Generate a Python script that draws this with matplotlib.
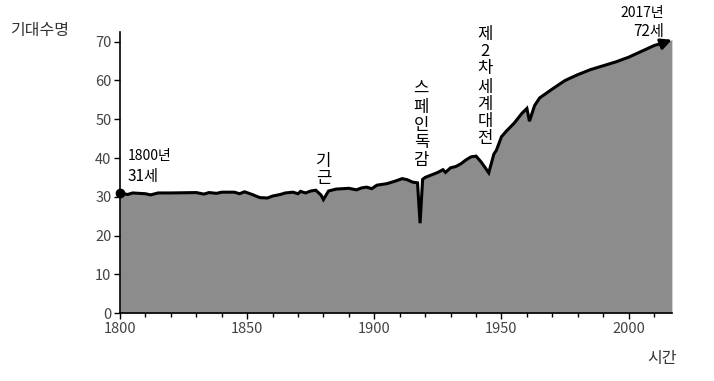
import numpy as np
import matplotlib
matplotlib.use("Agg")
from matplotlib import pyplot as plt

plt.rcParams['font.family'] = ['Noto Sans CJK KR', 'DejaVu Sans']

# life expectancy
years = [1800, 1803, 1805, 1810, 1812, 1815, 1820, 1830, 1833, 1835, 1838, 1840,
         1845, 1847, 1849, 1852, 1855, 1858, 1860, 1863, 1865, 1868, 1870, 1871,
         1873, 1875, 1877, 1879, 1880, 1882, 1885, 1890, 1893, 1895, 1897, 1899,
         1901, 1905, 1908, 1911, 1913, 1915, 1917, 1918, 1919, 1920, 1925, 1927,
         1928, 1930, 1932, 1934, 1936, 1938, 1940, 1942, 1945, 1947, 1948, 1950,
         1952, 1955, 1958, 1960, 1961, 1963, 1965, 1970, 1975, 1980, 1985, 1990,
         1995, 2000, 2005, 2010, 2015, 2017]
life = [31.0, 30.6, 31.0, 30.8, 30.5, 31.0, 31.0, 31.1, 30.7, 31.1, 30.9, 31.2,
        31.2, 30.8, 31.3, 30.6, 29.8, 29.7, 30.2, 30.6, 31.0, 31.2, 30.8, 31.4,
        31.0, 31.5, 31.7, 30.5, 29.3, 31.5, 32.0, 32.2, 31.8, 32.3, 32.5, 32.1,
        33.0, 33.4, 34.0, 34.7, 34.4, 33.8, 33.6, 23.2, 34.5, 35.0, 36.3, 37.0,
        36.3, 37.5, 37.8, 38.5, 39.5, 40.3, 40.5, 39.0, 36.2, 41.0, 42.0, 45.5,
        47.0, 49.0, 51.5, 52.8, 49.5, 53.5, 55.5, 57.8, 60.0, 61.5, 62.8, 63.8,
        64.8, 66.0, 67.5, 69.0, 70.0, 70.5]

yticks = [0, 10, 20, 30, 40, 50, 60, 70]
xticks = [1800, 1850, 1900, 1950, 2000]

fig = plt.figure(figsize=(7.14, 3.81), dpi=100)
ax = fig.add_axes([0.168, 0.178, 0.773, 0.738])

ax.fill_between(years, life, 0, color='#8c8c8c', lw=0)
ax.plot(years[:-1], life[:-1], color='black', lw=2.2, solid_joinstyle='miter')
# arrow at the end
ax.annotate('', xy=(years[-1], life[-1]), xytext=(years[-2], life[-2]),
            arrowprops=dict(arrowstyle='-|>', color='black', lw=2.2,
                            mutation_scale=16, shrinkA=0, shrinkB=0),
            annotation_clip=False)
ax.plot(years[0], life[0], 'o', color='black', ms=6, clip_on=False, zorder=5)

ax.set_xlim(1800, 2017)
ax.set_ylim(0, 72.5)
ax.set_yticks(yticks)
ax.set_xticks(xticks)
ax.set_xticks(np.arange(1810, 2017, 10), minor=True)
ax.tick_params(axis='both', labelsize=10.5, labelcolor='#444444', color='black',
               length=4, width=1)
ax.tick_params(axis='x', which='minor', length=3, width=1)
ax.tick_params(axis='x', pad=2)
ax.tick_params(axis='y', pad=2)
for s in ['top', 'right']:
    ax.spines[s].set_visible(False)
for s in ['left', 'bottom']:
    ax.spines[s].set_linewidth(1.2)

# labels
fig.text(0.014, 0.92, '기대수명', fontsize=11.5, color='#333333', va='center')
fig.text(0.948, 0.058, '시간', fontsize=11.5, color='#333333', ha='right', va='center')

ax.text(1803, 40.5, '1800년', fontsize=10, va='center')
ax.text(1803, 35.3, '31세', fontsize=11, va='center')
ax.text(2014, 77.3, '2017년', fontsize=10, ha='right', va='center', clip_on=False)
ax.text(2014, 72.6, '72세', fontsize=11, ha='right', va='center', clip_on=False)

ax.text(1880, 37.0, '기\n근', fontsize=12, ha='center', va='center', linespacing=1.0)
ax.text(1918.5, 48.5, '스\n페\n인\n독\n감', fontsize=12, ha='center', va='center',
        linespacing=1.05)
ax.text(1943.5, 67.5, '제\n2\n차', fontsize=12, ha='center', va='center', linespacing=1.0)
ax.text(1943.5, 51.5, '세\n계\n대\n전', fontsize=12, ha='center', va='center',
        linespacing=1.0)

fig.savefig('out.png', dpi=100)
